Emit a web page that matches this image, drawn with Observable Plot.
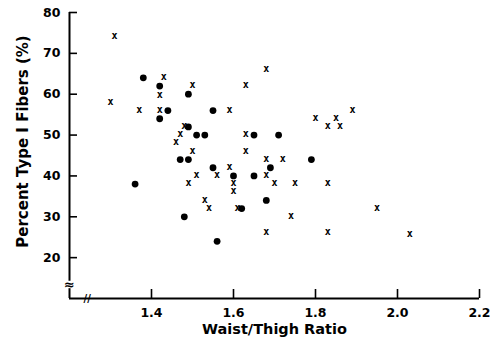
<!DOCTYPE html>
<html><head><meta charset="utf-8">
<script src="https://cdn.jsdelivr.net/npm/d3@7"></script>
<script src="https://cdn.jsdelivr.net/npm/@observablehq/plot@0.6"></script>
<style>body{margin:0;background:#fff}</style>
</head><body><div id="chart"></div>
<script>
// Filled circles
const circleX = [1.38,1.42,1.44,1.42,1.49,1.55,1.49,1.51,1.53,1.47,1.49,1.55,1.60,1.65,1.71,1.79,1.69,1.65,1.68,1.62,1.36,1.48,1.56];
const circleY = [64,62,56,54,60,56,52,50,50,44,44,42,40,50,50,44,42,40,34,32,38,30,24];
// Crosses
const crossX = [1.31,1.30,1.43,1.42,1.37,1.42,1.50,1.63,1.59,1.48,1.47,1.46,1.50,1.63,1.63,1.59,1.51,1.49,1.56,1.68,1.89,1.80,1.85,1.83,1.86,1.68,1.72,1.68,1.70,1.75,1.83,1.74,1.95,1.68,1.83,2.03,1.60,1.60,1.53,1.54,1.61];
const crossY = [74,58,64,59.5,56,56,62,62,56,52,50,48,46,50,46,42,40,38,40,66,56,54,54,52,52,44,44,40,38,38,38,30,32,26,26,25.5,38,36,34,32,32];
const xTicks = [1.4,1.6,1.8,2.0,2.2];
const yTicks = [20,30,40,50,60,70,80];
const xDomain = [1.2,2.2];
const yDomain = [10,80];
const xLabel = "Waist/Thigh Ratio";
const yLabel = "Percent Type I Fibers (%)";

const circles = circleX.map((x,i)=>({x, y: circleY[i]}));
const crosses = crossX.map((x,i)=>({x, y: crossY[i]}));

const font = "DejaVu Sans";
const chart = Plot.plot({
  width: 493, height: 344,
  marginLeft: 69, marginRight: 14, marginTop: 12, marginBottom: 46,
  style: {fontFamily: font, fontWeight: "bold", fontSize: "12px", color: "#000", background: "#fff"},
  x: {domain: xDomain, axis: null},
  y: {domain: yDomain, axis: null},
  marks: [
    Plot.ruleX([xDomain[0]], {y1: 14.2, y2: yDomain[1], stroke: "#000", strokeWidth: 2}),
    Plot.ruleX([xDomain[0]], {y1: yDomain[0], y2: 12.4, stroke: "#000", strokeWidth: 2}),
    Plot.ruleY([yDomain[0]], {stroke: "#000", strokeWidth: 2}),
    Plot.text(["≈"], {x: xDomain[0], y: 13.3, text: d=>d, fontSize: 13, fontWeight: "bold"}),
    Plot.text(["//"], {x: 1.243, y: yDomain[0], text: d=>d, fontSize: 10, fontWeight: "bold", fill: "#000"}),
    Plot.tickY(yTicks, {y: d=>d, insetRight: 402, stroke: "#000", strokeWidth: 1.6}),
    Plot.tickX(xTicks, {x: d=>d, insetTop: 277, stroke: "#000", strokeWidth: 1.6}),
    Plot.text(yTicks, {x: xDomain[0], y: d=>d, text: d=>String(d), textAnchor: "end", dx: -9, fontSize: 12.5, fontWeight: "bold"}),
    Plot.text(xTicks, {x: d=>d, y: yDomain[0], text: d=>d.toFixed(1), dy: 14, fontSize: 12.5, fontWeight: "bold"}),
    Plot.text([yLabel], {frameAnchor: "left", textAnchor: "middle", text: d=>d, rotate: -90, dx: -46, dy: -14, fontSize: 15, fontWeight: "bold", style: "letter-spacing:3.8px"}),
    Plot.text([xLabel], {frameAnchor: "bottom", text: d=>d, dy: 35, fontSize: 14.5, fontWeight: "bold", style: "letter-spacing:1.4px"}),
    Plot.dot(circles, {x: "x", y: "y", r: 3.4, fill: "#000", stroke: "none"}),
    Plot.text(crosses, {x: "x", y: "y", text: ()=>"x", fontSize: 10, fontWeight: "bold", fontFamily: "DejaVu Sans Mono", dy: -1})
  ]
});
document.getElementById("chart").append(chart);
</script>
</body></html>
